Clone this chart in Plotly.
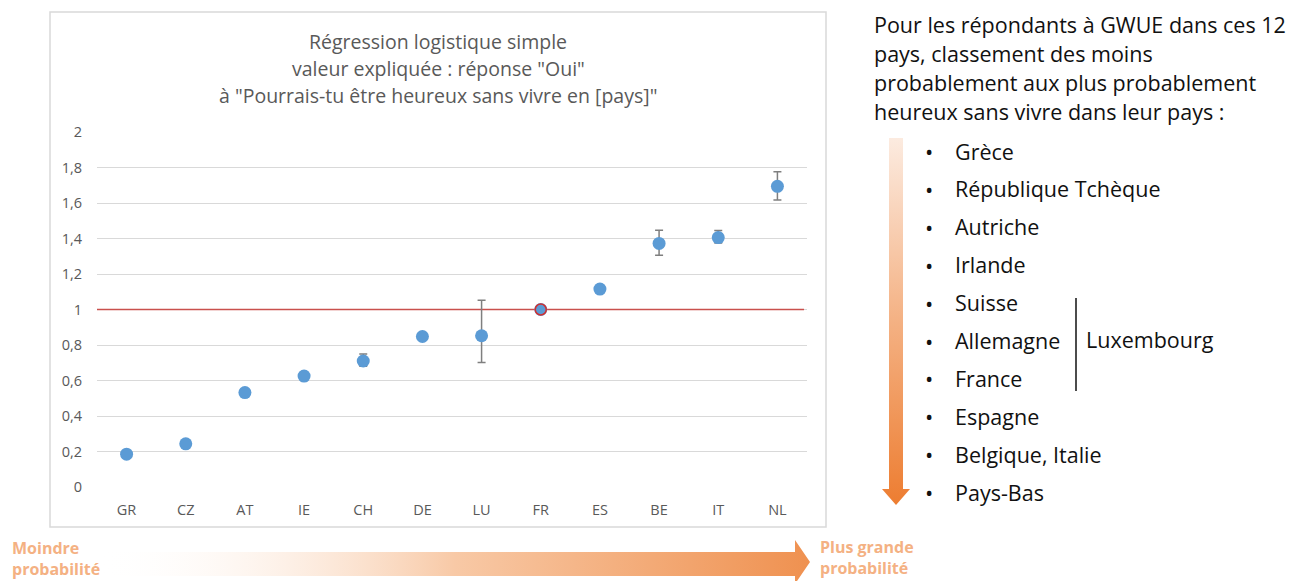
import plotly.graph_objects as go

# data
countries = ['GR', 'CZ', 'AT', 'IE', 'CH', 'DE', 'LU', 'FR', 'ES', 'BE', 'IT', 'NL']
odds = [0.185, 0.243, 0.532, 0.625, 0.71, 0.848, 0.852, 1.0, 1.115, 1.372, 1.405, 1.694]
err_plus = [0, 0, 0, 0.025, 0.04, 0.01, 0.2, 0, 0.02, 0.074, 0.04, 0.082]
err_minus = [0, 0, 0, 0.025, 0.03, 0.01, 0.15, 0, 0.02, 0.067, 0.03, 0.077]
reference = 'FR'
y_ticks = [0, 0.2, 0.4, 0.6, 0.8, 1, 1.2, 1.4, 1.6, 1.8, 2]

title_lines = ['Régression logistique simple',
               'valeur expliquée : réponse "Oui"',
               'à "Pourrais-tu être heureux sans vivre en [pays]"']
intro_lines = ['Pour les répondants à GWUE dans ces 12',
               'pays, classement des moins',
               'probablement aux plus probablement',
               'heureux sans vivre dans leur pays :']
ranking = ['Grèce', 'République Tchèque', 'Autriche', 'Irlande', 'Suisse',
           'Allemagne', 'France', 'Espagne', 'Belgique, Italie', 'Pays-Bas']

W, H = 1304, 581
BLUE = '#5b9bd5'
ORANGE_TXT = '#f4b183'
FONT = 'Open Sans'

fig = go.Figure()

# main chart
fig.add_trace(go.Scatter(
    x=countries, y=odds, mode='markers',
    marker=dict(color=BLUE, size=13),
    error_y=dict(type='data', symmetric=False, array=err_plus, arrayminus=err_minus,
                 color='#7f7f7f', thickness=1.5, width=4),
    hoverinfo='x+y', showlegend=False))
fig.add_trace(go.Scatter(
    x=[reference], y=[odds[countries.index(reference)]], mode='markers',
    marker=dict(color=BLUE, size=11, line=dict(color='#d03030', width=1.5)),
    hoverinfo='skip', showlegend=False))

# decoration layer, page pixel coords on a second full-page subplot
h_arrow_x = [100, 795, 795, 810, 795, 795, 100, 100]
h_arrow_y = [552, 552, 540, 562, 584, 576, 576, 552]
fig.add_trace(go.Scatter(
    x=h_arrow_x, y=h_arrow_y, xaxis='x2', yaxis='y2', mode='lines',
    line=dict(width=0), fill='toself',
    fillgradient=dict(type='horizontal', start=100, stop=810,
                      colorscale=[[0, 'rgba(255,255,255,0)'], [0.5, '#f8c9a6'], [1, '#ef9150']]),
    hoverinfo='skip', showlegend=False))

v_arrow_x = [889, 903, 903, 910, 896, 882, 889, 889]
v_arrow_y = [138, 138, 489, 489, 505, 489, 489, 138]
fig.add_trace(go.Scatter(
    x=v_arrow_x, y=v_arrow_y, xaxis='x2', yaxis='y2', mode='lines',
    line=dict(width=0), fill='toself',
    fillgradient=dict(type='vertical', start=138, stop=505,
                      colorscale=[[0, '#fcebe0'], [0.5, '#f4b183'], [1, '#ed7d31']]),
    hoverinfo='skip', showlegend=False))

TXT = dict(xref='x2', yref='y2', showarrow=False)
annotations = []
for i, t in enumerate(title_lines):
    annotations.append(dict(x=438, y=41 + i * 27, text=t,
                            font=dict(size=19.5, color='#595959'), **TXT))
for i, t in enumerate(intro_lines):
    annotations.append(dict(x=872, y=24 + i * 29, text=t, xanchor='left',
                            font=dict(size=21.5, color='#111111'), **TXT))
for i, t in enumerate(ranking):
    yy = 151 + i * 37.9
    annotations.append(dict(x=929, y=yy, text='•', font=dict(size=22, color='#111111'), **TXT))
    annotations.append(dict(x=953, y=yy, text=t, xanchor='left',
                            font=dict(size=21.5, color='#111111'), **TXT))
annotations.append(dict(x=1084, y=339, text='Luxembourg', xanchor='left',
                        font=dict(size=21.5, color='#111111'), **TXT))
annotations.append(dict(x=10, y=558, text='<b>Moindre<br>probabilité</b>',
                        xanchor='left', align='left',
                        font=dict(size=16, color=ORANGE_TXT), **TXT))
annotations.append(dict(x=818, y=557, text='<b>Plus grande<br>probabilité</b>',
                        xanchor='left', align='left',
                        font=dict(size=16, color=ORANGE_TXT), **TXT))

shapes = [
    dict(type='rect', xref='x2', yref='y2', x0=50, x1=826, y0=12, y1=527,
         line=dict(color='#d9d9d9', width=1.5), layer='below'),
    dict(type='line', xref='x', yref='y', x0=-0.5, x1=11.45, y0=1, y1=1,
         line=dict(color='#c9504d', width=1.5), layer='between'),
    dict(type='line', xref='x2', yref='y2', x0=1076, x1=1076, y0=298, y1=391,
         line=dict(color='#111111', width=1.5)),
]

fig.update_layout(
    width=W, height=H,
    margin=dict(l=0, r=0, t=0, b=0, pad=0),
    paper_bgcolor='white', plot_bgcolor='rgba(0,0,0,0)',
    font=dict(family=FONT, color='#595959'),
    separators=', ',
    xaxis=dict(domain=[97 / W, 807 / W], range=[-0.5, 11.5], showgrid=False, showline=False,
               zeroline=False, tickfont=dict(size=14.5, color='#595959'),
               ticklabelstandoff=12, fixedrange=True, automargin=False),
    yaxis=dict(domain=[1 - 487 / H, 1 - 132 / H], range=[0, 2], tickvals=y_ticks,
               showgrid=True, gridcolor='#d9d9d9', gridwidth=1, zeroline=False,
               showline=False, tickfont=dict(size=14.5, color='#595959'),
               ticklabelstandoff=14, fixedrange=True, automargin=False),
    xaxis2=dict(domain=[0, 1], range=[0, W], anchor='y2', visible=False, fixedrange=True,
                automargin=False),
    yaxis2=dict(domain=[0, 1], range=[H, 0], anchor='x2', visible=False, fixedrange=True,
                automargin=False),
    annotations=annotations,
    shapes=shapes,
)

# drop the default 8px page margin so the figure sits at the window corner
fig.write_html("out.html", config={'displayModeBar': False},
               post_script="document.body.style.margin='0';")
